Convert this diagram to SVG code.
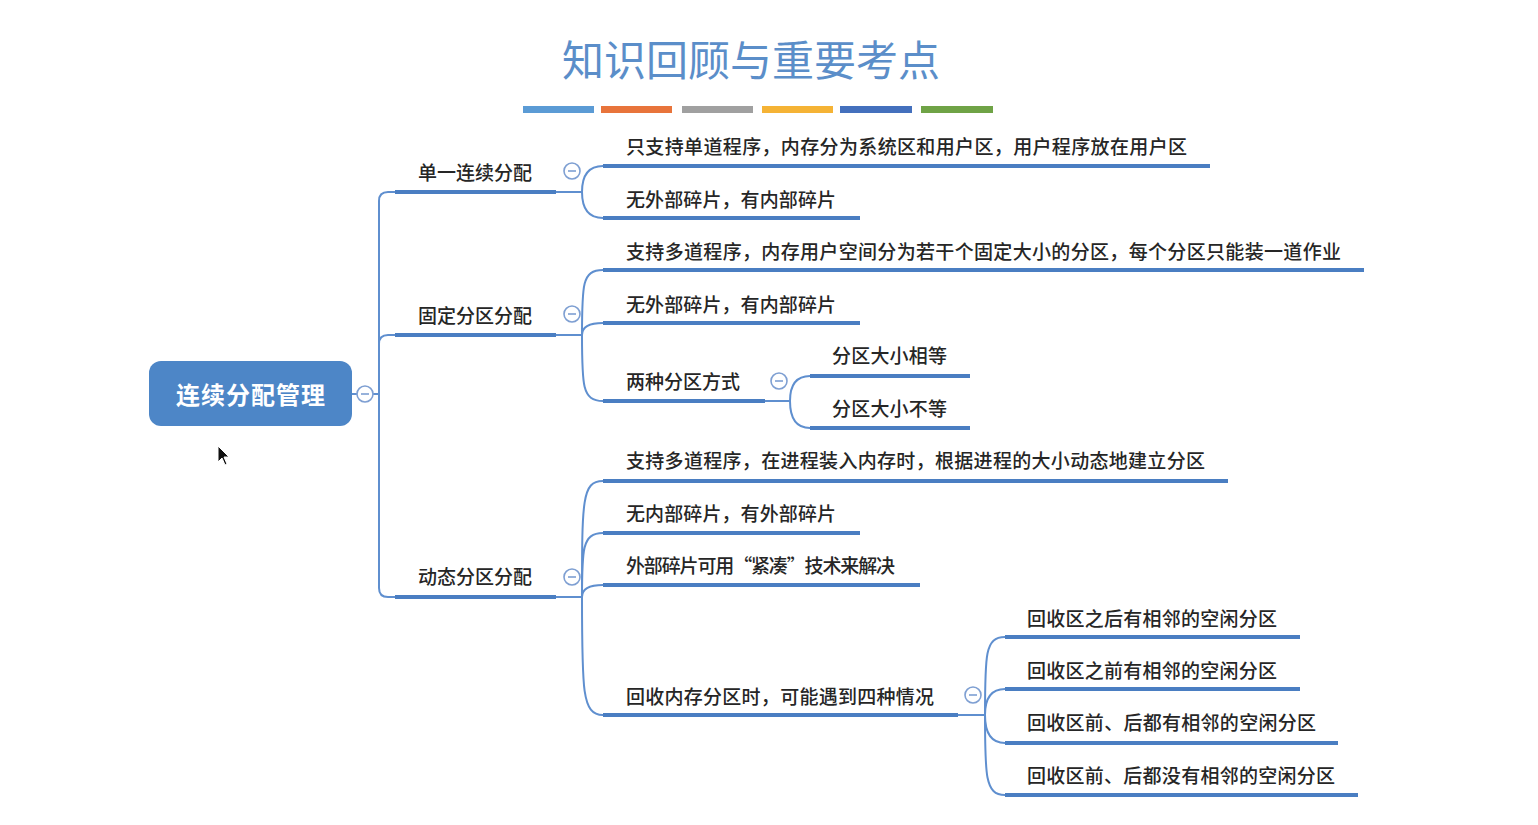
<svg xmlns="http://www.w3.org/2000/svg" width="1538" height="825" viewBox="0 0 1538 825">
<defs>
<style>
.t{font-family:"Noto Sans CJK SC","Noto Sans",sans-serif;font-size:19px;font-weight:500;fill:#262626;}
.ul{stroke:#4a7ec2;stroke-width:4;fill:none;stroke-linecap:butt;}
.cn{stroke:#5f8fcf;stroke-width:2;fill:none;}
.cc{fill:#fff;stroke:#7e9fd2;stroke-width:1.6;}
.cm{stroke:#7e9fd2;stroke-width:1.6;}
</style>
<g id="collapse"><circle class="cc" cx="0" cy="0" r="8"/><line class="cm" x1="-4" y1="0" x2="4" y2="0"/></g>
</defs>
<rect width="1538" height="825" fill="#fff"/>

<g id="title">
<text x="751" y="76" text-anchor="middle" font-family="'Noto Sans CJK SC',sans-serif" font-size="42" fill="#5b8ec9" textLength="378" lengthAdjust="spacing">知识回顾与重要考点</text>
<rect x="523" y="106" width="71" height="7" fill="#5b9bd5"/>
<rect x="601" y="106" width="71" height="7" fill="#e8743b"/>
<rect x="682" y="106" width="71" height="7" fill="#a0a0a0"/>
<rect x="762" y="106" width="71" height="7" fill="#f5b335"/>
<rect x="840" y="106" width="72" height="7" fill="#4470bd"/>
<rect x="921" y="106" width="72" height="7" fill="#6fa346"/>
</g>

<g id="connectors">
<path class="cn" d="M352,394 H379"/>
<path class="cn" d="M379,394 V201 Q379,192 388,192 H395"/>
<path class="cn" d="M379,394 V344 Q379,335 388,335 H395"/>
<path class="cn" d="M379,394 V588 Q379,597 388,597 H395"/>
<path class="cn" d="M556,192 H582 M582,192 Q582,166 603,166 M582,192 Q582,218 603,218"/>
<path class="cn" d="M556,335 H582 M582,335 C582,285 582,270 603,270 M582,335 Q582,323 603,323 M582,335 C582,385 582,401 603,401"/>
<path class="cn" d="M765,401 H790 M790,401 Q790,376 810,376 M790,401 Q790,428 810,428"/>
<path class="cn" d="M556,597 H582 M582,597 C582,500 582,481 603,481 M582,597 C582,550 582,533 603,533 M582,597 Q582,585 603,585 M582,597 C582,690 582,715 603,715"/>
<path class="cn" d="M958,715 H985 M985,715 C985,655 985,637 1005,637 M985,715 Q985,689 1005,689 M985,715 Q985,743 1005,743 M985,715 C985,775 985,795 1005,795"/>
</g>

<g id="root">
<rect x="149" y="361" width="203" height="65" rx="12" fill="#4d86c7"/>
<text x="250.5" y="404" text-anchor="middle" font-family="'Noto Sans CJK SC',sans-serif" font-size="24" font-weight="bold" fill="#fff" textLength="149" lengthAdjust="spacing">连续分配管理</text>
<use href="#collapse" x="365" y="394"/>
</g>

<g id="n-danyi">
<line class="ul" x1="395" y1="192" x2="556" y2="192"/>
<text class="t" x="418" y="180" textLength="114" lengthAdjust="spacing">单一连续分配</text>
<use href="#collapse" x="572" y="171"/>
</g>
<g id="n-danyi-1">
<line class="ul" x1="603" y1="166" x2="1210" y2="166"/>
<text class="t" x="626" y="154" textLength="561" lengthAdjust="spacing">只支持单道程序，内存分为系统区和用户区，用户程序放在用户区</text>
</g>
<g id="n-danyi-2">
<line class="ul" x1="603" y1="218" x2="860" y2="218"/>
<text class="t" x="626" y="207" textLength="210" lengthAdjust="spacing">无外部碎片，有内部碎片</text>
</g>

<g id="n-guding">
<line class="ul" x1="395" y1="335" x2="556" y2="335"/>
<text class="t" x="418" y="323" textLength="114" lengthAdjust="spacing">固定分区分配</text>
<use href="#collapse" x="572" y="314"/>
</g>
<g id="n-guding-1">
<line class="ul" x1="603" y1="270" x2="1364" y2="270"/>
<text class="t" x="626" y="259" textLength="715" lengthAdjust="spacing">支持多道程序，内存用户空间分为若干个固定大小的分区，每个分区只能装一道作业</text>
</g>
<g id="n-guding-2">
<line class="ul" x1="603" y1="323" x2="860" y2="323"/>
<text class="t" x="626" y="312" textLength="210" lengthAdjust="spacing">无外部碎片，有内部碎片</text>
</g>
<g id="n-guding-3">
<line class="ul" x1="603" y1="401" x2="765" y2="401"/>
<text class="t" x="626" y="389" textLength="114" lengthAdjust="spacing">两种分区方式</text>
<use href="#collapse" x="779" y="381"/>
</g>
<g id="n-guding-3a">
<line class="ul" x1="810" y1="376" x2="970" y2="376"/>
<text class="t" x="832" y="363" textLength="115" lengthAdjust="spacing">分区大小相等</text>
</g>
<g id="n-guding-3b">
<line class="ul" x1="810" y1="428" x2="970" y2="428"/>
<text class="t" x="832" y="416" textLength="115" lengthAdjust="spacing">分区大小不等</text>
</g>

<g id="n-dongtai">
<line class="ul" x1="395" y1="597" x2="556" y2="597"/>
<text class="t" x="418" y="584" textLength="114" lengthAdjust="spacing">动态分区分配</text>
<use href="#collapse" x="572" y="577"/>
</g>
<g id="n-dongtai-1">
<line class="ul" x1="603" y1="481" x2="1228" y2="481"/>
<text class="t" x="626" y="468" textLength="579" lengthAdjust="spacing">支持多道程序，在进程装入内存时，根据进程的大小动态地建立分区</text>
</g>
<g id="n-dongtai-2">
<line class="ul" x1="603" y1="533" x2="860" y2="533"/>
<text class="t" x="626" y="521" textLength="210" lengthAdjust="spacing">无内部碎片，有外部碎片</text>
</g>
<g id="n-dongtai-3">
<line class="ul" x1="603" y1="585" x2="920" y2="585"/>
<text class="t" x="626" y="573" textLength="269" lengthAdjust="spacing">外部碎片可用“紧凑”技术来解决</text>
</g>
<g id="n-dongtai-4">
<line class="ul" x1="603" y1="715" x2="958" y2="715"/>
<text class="t" x="626" y="704" textLength="308" lengthAdjust="spacing">回收内存分区时，可能遇到四种情况</text>
<use href="#collapse" x="973" y="695"/>
</g>
<g id="n-huishou-1">
<line class="ul" x1="1005" y1="637" x2="1300" y2="637"/>
<text class="t" x="1027" y="626" textLength="250" lengthAdjust="spacing">回收区之后有相邻的空闲分区</text>
</g>
<g id="n-huishou-2">
<line class="ul" x1="1005" y1="689" x2="1300" y2="689"/>
<text class="t" x="1027" y="678" textLength="250" lengthAdjust="spacing">回收区之前有相邻的空闲分区</text>
</g>
<g id="n-huishou-3">
<line class="ul" x1="1005" y1="743" x2="1338" y2="743"/>
<text class="t" x="1027" y="730" textLength="289" lengthAdjust="spacing">回收区前、后都有相邻的空闲分区</text>
</g>
<g id="n-huishou-4">
<line class="ul" x1="1005" y1="795" x2="1358" y2="795"/>
<text class="t" x="1027" y="783" textLength="308" lengthAdjust="spacing">回收区前、后都没有相邻的空闲分区</text>
</g>

<path d="M218,446 L218,462 L222,458 L225,465 L227,464 L224,457 L229,457 Z" fill="#111" stroke="#fff" stroke-width="1"/>
</svg>
